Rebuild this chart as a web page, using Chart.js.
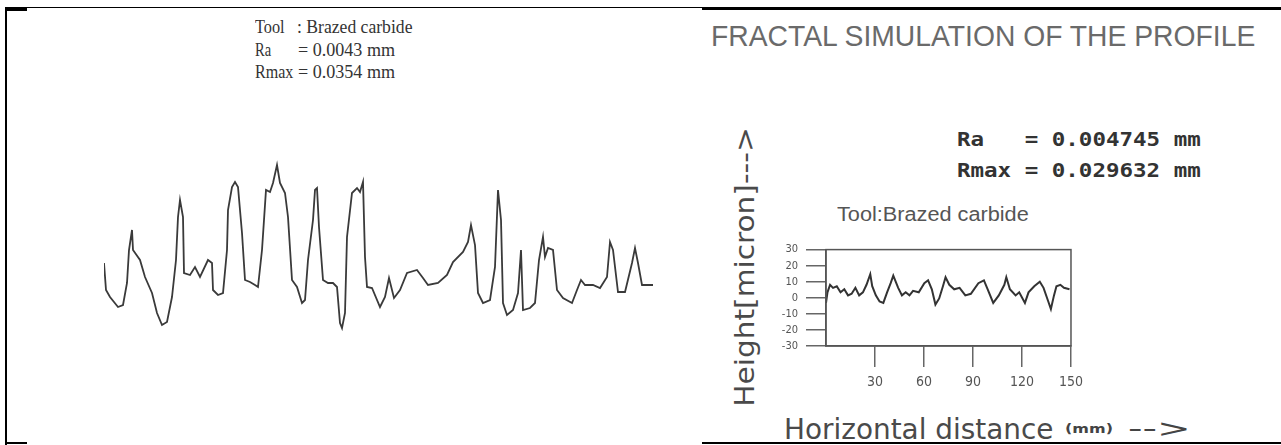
<!DOCTYPE html>
<html><head><meta charset="utf-8">
<script src="https://cdn.jsdelivr.net/npm/chart.js@4.4.1/dist/chart.umd.min.js"></script>
<style>
html,body{margin:0;padding:0;background:#fff;}
body{width:1281px;height:445px;overflow:hidden;position:relative;}
.t{position:absolute;white-space:pre;line-height:1;transform-origin:left center;}
.ln{position:absolute;background:#000;}
canvas{position:absolute;}
</style>
</head><body>
<!-- frame lines -->
<div class="ln" style="left:5px;top:7px;width:1276px;height:1px;"></div>
<div class="ln" style="left:702px;top:7px;width:579px;height:3px;"></div>
<div class="ln" style="left:5px;top:8px;width:22px;height:3px;"></div>
<div class="ln" style="left:5px;top:8px;width:2px;height:437px;"></div>
<div class="ln" style="left:5px;top:442px;width:22px;height:2px;"></div>
<div class="ln" style="left:702px;top:442px;width:579px;height:2px;"></div>

<!-- left panel text -->
<div class="t" id="lt1a" style="left:255px;top:16px;font:19px 'Liberation Serif';color:#333;">Tool</div>
<div class="t" id="lt1b" style="left:297px;top:16px;font:19px 'Liberation Serif';color:#333;">: Brazed carbide</div>
<div class="t" id="lt2a" style="left:255px;top:39px;font:19px 'Liberation Serif';color:#333;">Ra</div>
<div class="t" id="lt2b" style="left:298px;top:39px;font:19px 'Liberation Serif';color:#333;">= 0.0043 mm</div>
<div class="t" id="lt3a" style="left:255px;top:61px;font:19px 'Liberation Serif';color:#333;">Rmax</div>
<div class="t" id="lt3b" style="left:298px;top:61px;font:19px 'Liberation Serif';color:#333;">= 0.0354 mm</div>

<!-- right panel text -->
<div class="t" id="title" style="left:711px;top:19px;font:30px 'Liberation Sans';color:#6a6a6a;">FRACTAL SIMULATION OF THE PROFILE</div>
<div class="t" id="ra" style="left:957px;top:127px;font:bold 20px 'DejaVu Sans Mono';color:#333;">Ra   = 0.004745 mm</div>
<div class="t" id="rmax" style="left:957px;top:158px;font:bold 20px 'DejaVu Sans Mono';color:#333;">Rmax = 0.029632 mm</div>
<div class="t" id="tool" style="left:837px;top:203px;font:20px 'Liberation Sans';color:#555;">Tool:Brazed carbide</div>
<div class="t" id="ylab" style="font:26px 'DejaVu Sans';color:#4a4a4a;transform-origin:center center;">Height[micron]---&gt;</div>
<div class="t" id="xlab" style="left:784px;top:413px;font:28px 'DejaVu Sans';color:#4a4a4a;">Horizontal distance</div>
<div class="t" id="xmm" style="left:1065px;top:421px;font:bold 13px 'DejaVu Sans';color:#444;">(mm)</div>
<div class="t" id="xarr" style="left:1128px;top:415px;font:24px 'DejaVu Sans';color:#444;">--&gt;</div>

<canvas id="left" width="549" height="175" style="left:104px;top:160px;"></canvas>
<canvas id="right" width="330" height="165" style="left:760px;top:235px;"></canvas>

<script>
// ---- measured profile (left panel): position along trace, height (micron) ----
const measuredPos = [0,2,6,14,19,23,25,28,29,36,41,48,53,58,63,68,72,74,76,79,80,86,91,96,104,108,109,114,119,123,124,128,131,134,138,141,146,151,154,158,162,166,169,173,176,181,184,188,193,198,201,204,209,211,213,215,219,224,229,233,236,238,241,243,248,253,256,259,261,263,268,276,281,285,290,296,303,313,319,324,334,343,349,359,364,367,371,374,379,386,391,394,397,399,403,409,414,417,419,426,431,435,439,441,444,449,453,459,468,473,477,481,489,496,503,506,509,514,521,528,531,534,538,549];
const measuredHeight = [4.4,-1.0,-2.4,-4.4,-4.0,0.4,7.0,11.0,7.0,5.0,1.6,-1.6,-5.6,-8.0,-7.4,-2.4,5.0,13.6,17.0,13.6,2.4,2.0,3.6,1.6,5.0,4.4,-1.0,-2.0,-1.6,7.0,15.0,19.6,20.6,19.6,10.4,1.0,0.6,0.0,-0.4,7.0,19.0,18.6,20.4,24.0,20.4,18.4,13.6,1.0,-0.4,-3.6,-3.0,5.0,13.0,19.0,19.4,11.6,1.0,0.4,0.4,-0.4,-7.6,-8.6,-5.6,9.6,18.4,19.4,18.6,20.6,5.6,-0.4,-0.6,-4.4,-2.4,1.4,-2.6,-1.0,2.4,3.0,1.4,0.0,0.4,2.0,4.6,6.6,8.6,12.0,8.0,-1.6,-3.6,-3.0,3.6,19.0,13.0,-3.6,-6.0,-5.0,-1.6,7.0,-5.0,-4.6,-3.6,5.0,9.6,5.6,7.4,7.0,-1.0,-2.6,-3.6,-1.0,1.0,0.0,0.0,-0.6,1.6,8.6,7.0,-1.4,-1.4,4.4,7.4,4.4,0.0,0.0];

// ---- fractal simulated profile (right panel) ----
const simDistance = [0,0.9,2.5,4.3,6.6,8.9,11.2,13.5,15.7,18.0,20.3,22.6,24.8,27.1,28.3,30.5,32.8,35.1,37.4,39.6,41.2,44.2,46.5,48.8,51.1,53.3,56.8,60.2,62.5,64.8,67.0,69.3,71.6,73.2,75.5,78.5,81.8,85.3,88.7,93.3,96.7,99.0,102.4,105.8,109.2,110.4,112.6,116.1,118.3,121.8,124.0,127.5,130.9,133.2,136.1,137.7,139.6,141.1,143.5,145.7,149.1];
const simHeight = [-3.2,3.4,8.1,6.2,7.2,3.4,5.3,1.5,2.5,6.2,1.5,3.4,8.1,14.7,7.2,1.5,-2.3,-3.2,3.4,9.1,13.8,6.2,1.5,3.4,1.5,4.3,3.4,9.1,10.9,5.3,-4.2,-0.4,7.2,12.8,8.1,5.3,6.2,1.5,2.5,9.1,10.9,5.3,-3.2,1.5,8.1,12.8,5.3,1.5,3.4,-3.2,3.4,7.2,10.0,6.2,-2.3,-7.0,1.5,7.2,8.1,6.2,5.3];
const simXTicks = [30,60,90,120,150];
const simYTicks = [-30,-20,-10,0,10,20,30];

function pts(xs, ys){ return xs.map((x,i)=>({x:x, y:ys[i]})); }

new Chart(document.getElementById('left'), {
  type:'line',
  data:{datasets:[{data:pts(measuredPos, measuredHeight), borderColor:'#3a3a3a', borderWidth:1.8, pointRadius:0, tension:0, clip:false}]},
  options:{
    responsive:false, animation:false, events:[],
    layout:{padding:0},
    plugins:{legend:{display:false}, tooltip:{enabled:false}},
    scales:{
      x:{type:'linear', min:0, max:549, display:false},
      y:{min:-10, max:25, display:false}
    }
  }
});

const boxPlugin = {
  id:'box',
  afterDraw(chart){
    const a = chart.chartArea, c = chart.ctx;
    c.save(); c.strokeStyle='#555'; c.lineWidth=1.5;
    c.strokeRect(a.left, a.top, a.right-a.left, a.bottom-a.top);
    c.restore();
  }
};

new Chart(document.getElementById('right'), {
  type:'line',
  data:{datasets:[{data:pts(simDistance, simHeight), borderColor:'#333', borderWidth:2, pointRadius:0, tension:0}]},
  options:{
    responsive:false, animation:false, events:[],
    layout:{padding:{left:0, right:12, top:10, bottom:0}},
    plugins:{legend:{display:false}, tooltip:{enabled:false}},
    scales:{
      x:{type:'linear', min:0, max:150,
         afterBuildTicks:s=>{ s.ticks = simXTicks.map(v=>({value:v})); },
         afterFit:s=>{ s.height = 54; },
         ticks:{color:'#555', font:{size:14, family:'DejaVu Sans Condensed, DejaVu Sans'}, padding:7, maxRotation:0, autoSkip:false},
         grid:{drawOnChartArea:false, drawTicks:true, tickLength:21, color:'#666', lineWidth:1.5},
         border:{display:true, color:'#555', width:1.5}},
      y:{min:-30, max:30,
         afterBuildTicks:s=>{ s.ticks = simYTicks.map(v=>({value:v})); },
         afterFit:s=>{ s.width = 66; },
         ticks:{color:'#555', font:{size:11, family:'DejaVu Sans Condensed, DejaVu Sans'}, padding:8, autoSkip:false},
         grid:{drawOnChartArea:false, drawTicks:true, tickLength:20, color:'#666', lineWidth:1.5},
         border:{display:true, color:'#555', width:1.5}}
    }
  },
  plugins:[boxPlugin]
});

// fit text widths
function fit(id, w){
  const el = document.getElementById(id);
  const r = el.offsetWidth;
  el.style.transform = 'scaleX(' + (w/r) + ')';
}
fit('lt1a', 30); fit('lt1b', 115); fit('lt2a', 16); fit('lt2b', 97); fit('lt3a', 38); fit('lt3b', 97);
fit('title', 544); fit('ra', 244); fit('rmax', 244); fit('tool', 192);
fit('xlab', 270); fit('xmm', 48); fit('xarr', 62);
(function(){
  const el = document.getElementById('ylab');
  const w = el.offsetWidth, h = el.offsetHeight;
  const cx = 745, cy = 267, len = 280;
  el.style.left = (cx - w/2) + 'px';
  el.style.top = (cy - h/2) + 'px';
  el.style.transform = 'rotate(-90deg) scaleX(' + (len/w) + ')';
})();
</script>
</body></html>
